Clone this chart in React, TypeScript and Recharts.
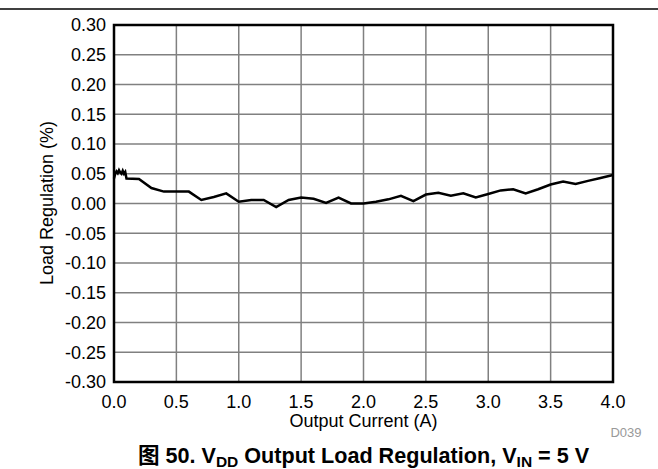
import React from 'react';
import { LineChart, Line, XAxis, YAxis, CartesianGrid, ReferenceArea } from 'recharts';

const currentA = [0, 0.01, 0.02, 0.03, 0.04, 0.05, 0.06, 0.07, 0.08, 0.09, 0.1, 0.2, 0.3, 0.4, 0.5, 0.6, 0.7, 0.8, 0.9, 1.0, 1.1, 1.2, 1.3, 1.4, 1.5, 1.6, 1.7, 1.8, 1.9, 2.0, 2.1, 2.2, 2.3, 2.4, 2.5, 2.6, 2.7, 2.8, 2.9, 3.0, 3.1, 3.2, 3.3, 3.4, 3.5, 3.6, 3.7, 3.8, 3.9, 4.0];
const loadRegPct = [0.042, 0.05, 0.054, 0.051, 0.056, 0.052, 0.05, 0.055, 0.05, 0.053, 0.042, 0.041, 0.026, 0.02, 0.02, 0.02, 0.006, 0.011, 0.017, 0.003, 0.006, 0.006, -0.006, 0.006, 0.01, 0.008, 0.001, 0.01, 0.0, 0.0, 0.003, 0.007, 0.013, 0.004, 0.015, 0.018, 0.013, 0.017, 0.01, 0.016, 0.022, 0.024, 0.017, 0.024, 0.032, 0.037, 0.033, 0.038, 0.043, 0.048];
const xTicks = [0, 0.5, 1, 1.5, 2, 2.5, 3, 3.5, 4];
const yTicks = [-0.3, -0.25, -0.2, -0.15, -0.1, -0.05, 0, 0.05, 0.1, 0.15, 0.2, 0.25, 0.3];

const data = currentA.map((x, i) => ({ x, y: loadRegPct[i] }));

const FONT = '"Liberation Sans", Arial, "Noto Sans CJK SC", sans-serif';

export default function App() {
  return (
    <div style={{ position: 'absolute', left: 0, top: 0, width: 658, height: 469, fontFamily: FONT, background: '#fff' }}>
      <LineChart width={658} height={469} data={data} margin={{ top: 25, right: 45, bottom: 57, left: 0 }}>
        <CartesianGrid stroke="#808080" strokeWidth={1.5} horizontalValues={yTicks} verticalValues={xTicks} />
        <XAxis
          dataKey="x"
          type="number"
          domain={[0, 4]}
          ticks={xTicks}
          tickFormatter={(v: number) => v.toFixed(1)}
          tick={{ fontSize: 18, fill: '#000', fontFamily: FONT }}
          tickLine={false}
          axisLine={false}
          tickMargin={7}
          height={30}
          interval={0}
        />
        <YAxis
          type="number"
          domain={[-0.3, 0.3]}
          ticks={yTicks}
          tickFormatter={(v: number) => (Math.abs(v) < 1e-9 ? '0.00' : v.toFixed(2))}
          tick={{ fontSize: 18, fill: '#000', fontFamily: FONT }}
          tickLine={false}
          axisLine={false}
          width={114}
          interval={0}
        />
        <ReferenceArea x1={0} x2={4} y1={-0.3} y2={0.3} fill="none" stroke="#000" strokeWidth={2.5} ifOverflow="extendDomain" />
        <Line type="linear" dataKey="y" stroke="#000" strokeWidth={2.5} dot={false} isAnimationActive={false} />
      </LineChart>
      <svg width={658} height={469} style={{ position: 'absolute', left: 0, top: 0, pointerEvents: 'none' }}>
        <line x1={0} x2={658} y1={9} y2={9} stroke="#000" strokeWidth={1.5} />
        <text x={47} y={203} transform="rotate(-90 47 203)" textAnchor="middle" dominantBaseline="central" fontSize={18} fontFamily={FONT} fill="#000">Load Regulation (%)</text>
        <text x={363.5} y={427} textAnchor="middle" fontSize={18} fontFamily={FONT} fill="#000">Output Current (A)</text>
        <text x={626} y={437} textAnchor="middle" fontSize={13} fontFamily={FONT} fill="#999">D039</text>
        <text x={363.5} y={463} textAnchor="middle" fontSize={21.6} fontWeight="bold" fontFamily={FONT} fill="#000">
          图 50. V<tspan fontSize={15.5} dy={4}>DD</tspan><tspan dy={-4}> Output Load Regulation, V</tspan><tspan fontSize={15.5} dy={4}>IN</tspan><tspan dy={-4}> = 5 V</tspan>
        </text>
      </svg>
    </div>
  );
}
